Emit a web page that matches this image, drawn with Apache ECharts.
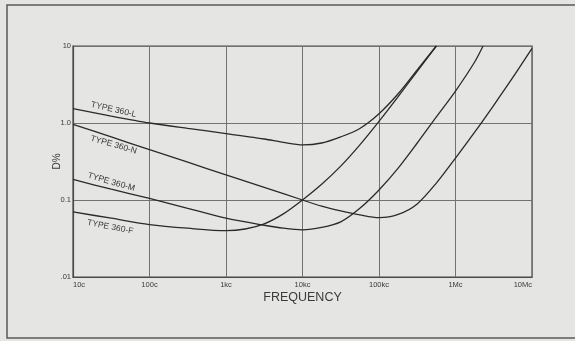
<!DOCTYPE html>
<html>
<head>
<meta charset="utf-8">
<script src="https://cdn.jsdelivr.net/npm/echarts@6/dist/echarts.min.js"></script>
<style>
  html, body { margin: 0; padding: 0; background: #ececea; }
  #chart { width: 575px; height: 341px; }
</style>
</head>
<body>
<div id="chart"></div>
<script>
// Dissipation factor D (%) versus frequency for four capacitor types.
// Frequencies in cycles per second, D in percent.
const freqL = [10, 31.6, 100, 316, 1000, 3160, 5620, 10000, 17800, 31600, 56200, 100000, 178000, 316000, 562000];
const dL    = [1.54, 1.23, 1.0, 0.85, 0.73, 0.62, 0.56, 0.52, 0.55, 0.66, 0.85, 1.32, 2.4, 4.9, 10];

const freqN = [10, 31.6, 100, 316, 1000, 3160, 10000, 17800, 31600, 56200, 100000, 178000, 316000, 562000, 1000000, 1780000, 3160000, 5620000, 10000000];
const dN    = [0.96, 0.66, 0.45, 0.31, 0.212, 0.146, 0.10, 0.083, 0.072, 0.064, 0.059, 0.065, 0.089, 0.166, 0.35, 0.76, 1.7, 3.9, 9.3];

const freqM = [10, 31.6, 100, 316, 1000, 3160, 5620, 10000, 17800, 31600, 56200, 100000, 178000, 316000, 562000, 1000000, 1780000, 2290000];
const dM    = [0.185, 0.138, 0.105, 0.078, 0.058, 0.047, 0.043, 0.041, 0.044, 0.052, 0.078, 0.135, 0.26, 0.55, 1.2, 2.6, 6.2, 10];

const freqF = [10, 31.6, 100, 316, 1000, 1780, 3160, 5620, 10000, 17800, 31600, 56200, 100000, 178000, 316000, 562000];
const dF    = [0.070, 0.058, 0.048, 0.043, 0.040, 0.042, 0.049, 0.066, 0.10, 0.16, 0.275, 0.52, 1.05, 2.2, 4.7, 10];

const seriesNames = ['TYPE 360-L', 'TYPE 360-N', 'TYPE 360-M', 'TYPE 360-F'];
const xTickLabels = ['10c', '100c', '1kc', '10kc', '100kc', '1Mc', '10Mc'];
const yTickLabels = ['.01', '0.1', '1.0', '10'];

// Where each curve's name sits, in data coordinates, and its slant.
const namePlacement = [
  { at: [34, 1.49],    rotate: -13 },
  { at: [34, 0.52],    rotate: -16 },
  { at: [31.6, 0.171], rotate: -16 },
  { at: [30.7, 0.0446], rotate: -11 }
];

const ink = '#2a2a2a';
const gridInk = '#727272';
const textInk = '#3a3a3a';

function pairs(xs, ys) { return xs.map((x, i) => [x, ys[i]]); }

const curves = [pairs(freqL, dL), pairs(freqN, dN), pairs(freqM, dM), pairs(freqF, dF)];

const chart = echarts.init(document.getElementById('chart'), null, { renderer: 'canvas' });

chart.setOption({
  animation: false,
  backgroundColor: '#e5e5e3',
  grid: {
    left: 73, top: 46, width: 459, height: 231,
    show: true, borderColor: '#4a4a4a', borderWidth: 1.2, backgroundColor: 'transparent'
  },
  xAxis: {
    type: 'log', logBase: 10, min: 10, max: 10000000, splitNumber: 6,
    name: 'FREQUENCY', nameLocation: 'middle', nameGap: 14, nameMoveOverlap: false,
    nameTextStyle: { fontFamily: 'Liberation Sans', fontSize: 12.5, color: textInk },
    axisLine: { show: true, lineStyle: { color: '#4a4a4a', width: 1.2 } },
    axisTick: { show: false },
    splitLine: { show: true, lineStyle: { color: gridInk, width: 1 } },
    axisLabel: {
      margin: 4, fontFamily: 'Liberation Sans', fontSize: 7.5, color: textInk,
      alignMinLabel: 'left', alignMaxLabel: 'right',
      formatter: v => xTickLabels[Math.round(Math.log10(v)) - 1] || ''
    }
  },
  yAxis: {
    type: 'log', logBase: 10, min: 0.01, max: 10, splitNumber: 3,
    name: 'D%', nameLocation: 'middle', nameGap: 11, nameRotate: 90, nameMoveOverlap: false,
    nameTextStyle: { fontFamily: 'Liberation Sans', fontSize: 10, color: textInk },
    axisLine: { show: true, lineStyle: { color: '#4a4a4a', width: 1.2 } },
    axisTick: { show: false },
    splitLine: { show: true, lineStyle: { color: gridInk, width: 1 } },
    axisLabel: {
      margin: 2, fontFamily: 'Liberation Sans', fontSize: 7.5, color: textInk,
      formatter: v => yTickLabels[Math.round(Math.log10(v)) + 2] || ''
    }
  },
  graphic: [
    // outer frame of the panel
    { type: 'rect', shape: { x: 7, y: 5, width: 580, height: 333 }, style: { fill: '#e5e5e3', stroke: '#5a5a5a', lineWidth: 1.5 }, z: -10, silent: true }
  ],
  series: curves.map((data, i) => ({
    type: 'line',
    name: seriesNames[i],
    data: data,
    smooth: 0.3,
    showSymbol: false,
    lineStyle: { color: ink, width: 1.3 },
    z: 5,
    markPoint: {
      symbol: 'circle', symbolSize: 0, silent: true,
      data: [{ coord: namePlacement[i].at, value: seriesNames[i] }],
      label: {
        show: true, position: 'inside', rotate: namePlacement[i].rotate,
        formatter: seriesNames[i],
        fontFamily: 'Liberation Sans', fontSize: 8.5, color: textInk
      }
    }
  }))
});
</script>
</body>
</html>
